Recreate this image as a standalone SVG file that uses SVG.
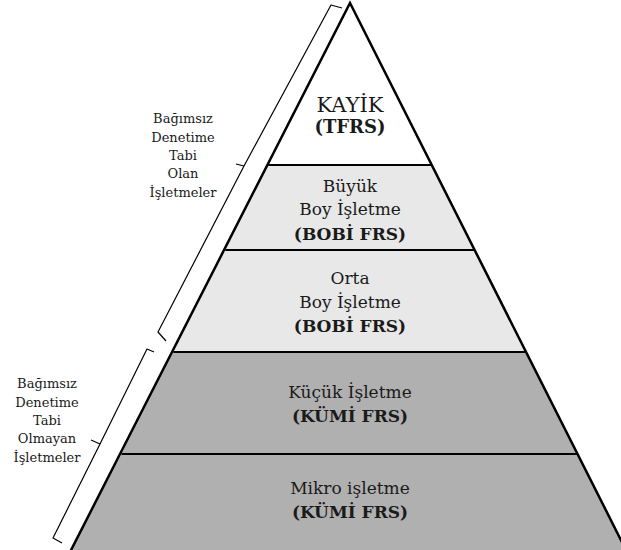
<svg xmlns="http://www.w3.org/2000/svg" width="621" height="550" viewBox="0 0 621 550">
<style>
.t{font-family:"DejaVu Serif","Liberation Serif",serif;font-size:17px;fill:#1a1a1a;text-anchor:middle}
.b{font-weight:bold}
.s{font-family:"DejaVu Serif","Liberation Serif",serif;font-size:13px;fill:#1a1a1a;text-anchor:middle}
.band{stroke:none}
.edge{fill:none;stroke:#000;stroke-width:2.5;stroke-linejoin:miter}
.div{stroke:#000;stroke-width:2.2}
.br{fill:none;stroke:#000;stroke-width:1.2;stroke-linejoin:round}
</style>
<rect width="621" height="550" fill="#fff"/>
<g id="kayik">
<polygon class="band" points="350,3 431.8,165 268.2,165" fill="#ffffff"/>
<text class="t" x="350" y="112" style="font-size:21px">KAYİK</text>
<text class="t b" x="350" y="133" style="font-size:18px">(TFRS)</text>
</g>
<g id="buyuk">
<polygon class="band" points="268.2,165 431.8,165 474.7,250 225.3,250" fill="#e8e8e8"/>
<text class="t" x="350" y="192">Büyük</text>
<text class="t" x="350" y="215">Boy İşletme</text>
<text class="t b" x="350" y="240">(BOBİ FRS)</text>
</g>
<g id="orta">
<polygon class="band" points="225.3,250 474.7,250 526.7,352 173.3,352" fill="#e8e8e8"/>
<text class="t" x="350" y="284">Orta</text>
<text class="t" x="350" y="308">Boy İşletme</text>
<text class="t b" x="350" y="332">(BOBİ FRS)</text>
</g>
<g id="kucuk">
<polygon class="band" points="173.3,352 526.7,352 577.8,454 121.5,454" fill="#b0b0b0"/>
<text class="t" x="350" y="398">Küçük İşletme</text>
<text class="t b" x="350" y="422">(KÜMİ FRS)</text>
</g>
<g id="mikro">
<polygon class="band" points="121.5,454 577.8,454 630,558 67,558" fill="#b0b0b0"/>
<text class="t" x="350" y="494">Mikro işletme</text>
<text class="t b" x="350" y="518">(KÜMİ FRS)</text>
</g>
<g id="connectors">
<polyline class="edge" points="67,558 350,3 630,558"/>
<line class="div" x1="268.2" y1="165" x2="431.8" y2="165"/>
<line class="div" x1="225.3" y1="250" x2="474.7" y2="250"/>
<line class="div" x1="173.3" y1="352" x2="526.7" y2="352"/>
<line class="div" x1="121.5" y1="454" x2="577.8" y2="454"/>
<path class="br" d="M342,8 L331,5 L244,166 L236,164 M244,166 L158,332 L166,341"/>
<path class="br" d="M154,352 L147,349 L100,444 L91,440 M100,444 L53,538 L62,543"/>
</g>
<g id="audited">
<text class="s" x="183" y="123">Bağımsız</text>
<text class="s" x="183" y="142">Denetime</text>
<text class="s" x="183" y="160">Tabi</text>
<text class="s" x="183" y="178">Olan</text>
<text class="s" x="183" y="197">İşletmeler</text>
</g>
<g id="unaudited">
<text class="s" x="47" y="388">Bağımsız</text>
<text class="s" x="47" y="407">Denetime</text>
<text class="s" x="47" y="425">Tabi</text>
<text class="s" x="47" y="443">Olmayan</text>
<text class="s" x="47" y="462">İşletmeler</text>
</g>
</svg>
